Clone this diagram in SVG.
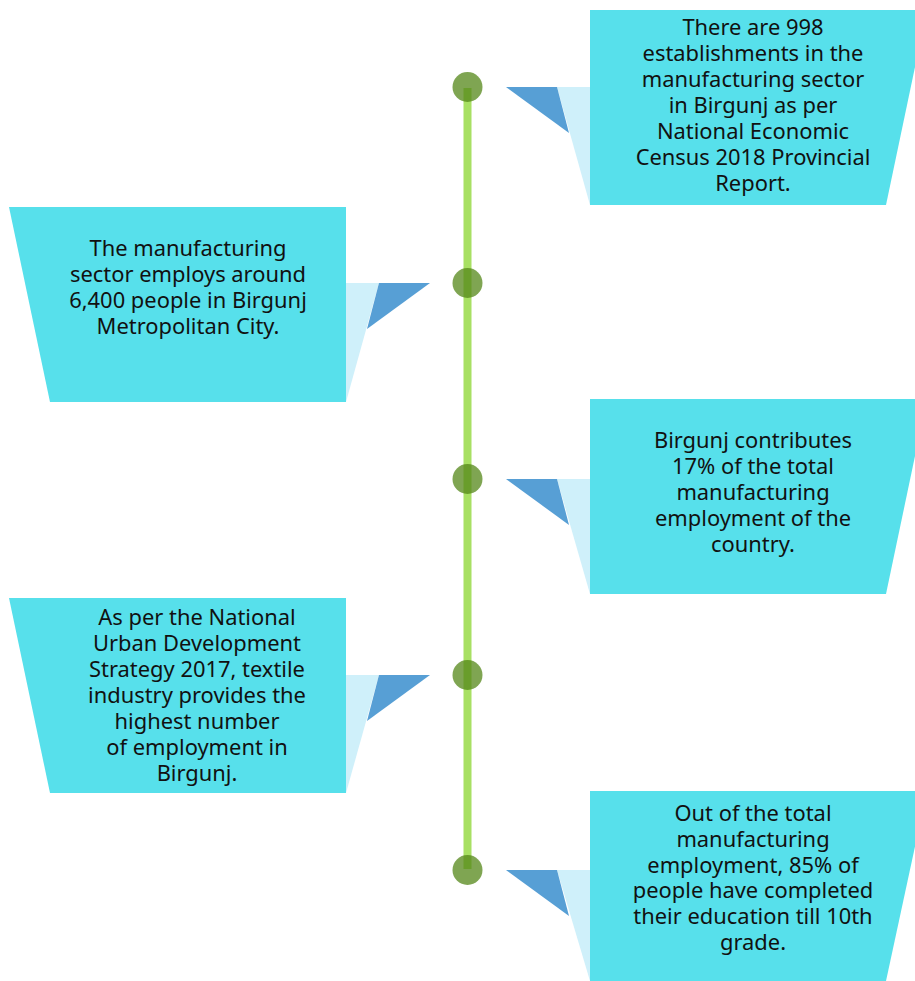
<svg xmlns="http://www.w3.org/2000/svg" width="915" height="981" viewBox="0 0 915 981">
<style>
.box{fill:#57e0eb}
.lt{fill:#cff0fa}
.dk{fill:#579fd5}
.dot{fill:#548718;fill-opacity:0.75}
text{font-family:"Noto Sans","Open Sans","DejaVu Sans",sans-serif;font-size:21.9px;fill:#111;text-anchor:middle}
</style>
<rect width="915" height="981" fill="#fff"/>
<g id="connectors">
<line x1="467.5" y1="88" x2="467.5" y2="869" stroke="#a8e063" stroke-width="8"/>
</g>
<g id="dots">
<circle class="dot" cx="467.5" cy="87" r="15"/>
<circle class="dot" cx="467.5" cy="283" r="15"/>
<circle class="dot" cx="467.5" cy="479" r="15"/>
<circle class="dot" cx="467.5" cy="675" r="15"/>
<circle class="dot" cx="467.5" cy="870" r="15"/>
</g>
<g id="node1">
<polygon class="lt" points="557,87 590,87 590,205"/>
<polygon class="dk" points="506,87 557,87 569,133"/>
<polygon class="box" points="590,10 927,10 886,205 590,205"/>
<text><tspan x="753" y="35">There are 998</tspan><tspan x="753" y="61">establishments in the</tspan><tspan x="753" y="87">manufacturing sector</tspan><tspan x="753" y="113">in Birgunj as per</tspan><tspan x="753" y="139">National Economic</tspan><tspan x="753" y="165">Census 2018 Provincial</tspan><tspan x="753" y="191">Report.</tspan></text>
</g>
<g id="node2">
<polygon class="lt" points="379,283 346,283 346,402"/>
<polygon class="dk" points="430,283 379,283 367,329"/>
<polygon class="box" points="9,207 346,207 346,402 50,402"/>
<text><tspan x="188" y="256">The manufacturing</tspan><tspan x="188" y="282">sector employs around</tspan><tspan x="188" y="308">6,400 people in Birgunj</tspan><tspan x="188" y="334">Metropolitan City.</tspan></text>
</g>
<g id="node3">
<polygon class="lt" points="557,479 590,479 590,594"/>
<polygon class="dk" points="506,479 557,479 569,525"/>
<polygon class="box" points="590,399 927,399 886,594 590,594"/>
<text><tspan x="753" y="448">Birgunj contributes</tspan><tspan x="753" y="474">17% of the total</tspan><tspan x="753" y="500">manufacturing</tspan><tspan x="753" y="526">employment of the</tspan><tspan x="753" y="552">country.</tspan></text>
</g>
<g id="node4">
<polygon class="lt" points="379,675 346,675 346,793"/>
<polygon class="dk" points="430,675 379,675 367,721"/>
<polygon class="box" points="9,598 346,598 346,793 50,793"/>
<text><tspan x="197" y="625">As per the National</tspan><tspan x="197" y="651">Urban Development</tspan><tspan x="197" y="677">Strategy 2017, textile</tspan><tspan x="197" y="703">industry provides the</tspan><tspan x="197" y="729">highest number</tspan><tspan x="197" y="755">of employment in</tspan><tspan x="197" y="781">Birgunj.</tspan></text>
</g>
<g id="node5">
<polygon class="lt" points="557,870 590,870 590,981"/>
<polygon class="dk" points="506,870 557,870 569,916"/>
<polygon class="box" points="590,791 927,791 886,981 590,981"/>
<text><tspan x="753" y="821">Out of the total</tspan><tspan x="753" y="847">manufacturing</tspan><tspan x="753" y="873">employment, 85% of</tspan><tspan x="753" y="898">people have completed</tspan><tspan x="753" y="924">their education till 10th</tspan><tspan x="753" y="950">grade.</tspan></text>
</g>
</svg>
